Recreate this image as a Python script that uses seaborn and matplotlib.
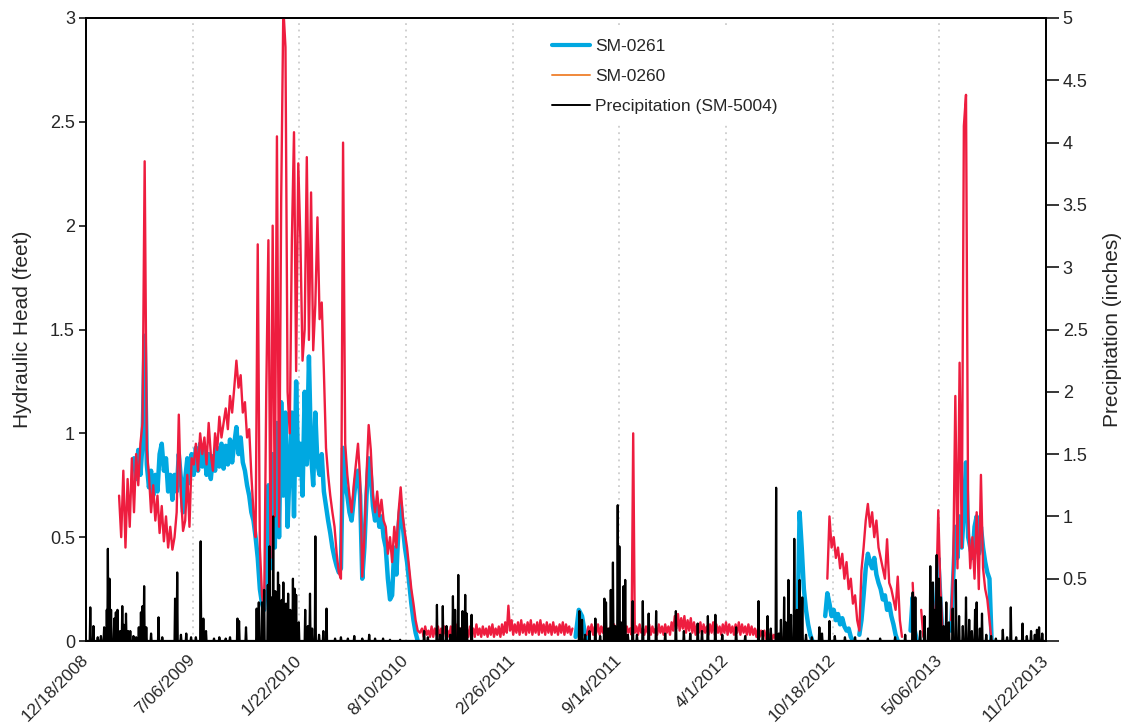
import numpy as np
import pandas as pd
import matplotlib
matplotlib.use("Agg")
import matplotlib.pyplot as plt
from matplotlib.lines import Line2D
import seaborn as sns

# ---------------------------------------------------------------------------
# Data (day offsets are counted from 12/18/2008)
# ---------------------------------------------------------------------------
START = pd.Timestamp("2008-12-18")
SPAN_DAYS = 1800

tick_labels = ["12/18/2008", "7/06/2009", "1/22/2010", "8/10/2010", "2/26/2011",
               "9/14/2011", "4/1/2012", "10/18/2012", "5/06/2013", "11/22/2013"]
head_ticks = [0, 0.5, 1, 1.5, 2, 2.5, 3]
precip_ticks = [0, 0.5, 1, 1.5, 2, 2.5, 3, 3.5, 4, 4.5, 5]

nan = np.nan

# Hydraulic head, feet -- period 1 (first day 62, every 4 days)
sm0260_p1 = [
    0.70, 0.50, 0.82, 0.45, 0.78, 0.55, 0.88, 0.62, 0.90, 0.75,
    0.95, 1.05, 2.31, 0.92, 0.80, 0.62, 0.75, 0.58, 0.70, 0.52,
    0.65, 0.48, 0.60, 0.45, 0.55, 0.44, 0.50, 0.62, 1.09, 0.70,
    0.53, 0.58, 0.80, 0.55, 0.88, 0.85, 0.95, 0.82, 1.00, 0.90,
    0.98, 0.85, 1.05, 0.90, 0.82, 1.00, 0.92, 1.08, 0.98, 1.05,
    1.12, 1.02, 1.18, 1.10, 1.22, 1.35, 1.22, 1.28, 1.10, 1.15,
    0.98, 1.02, 0.80, 0.62, 0.50, 1.91, 0.45, 0.22, 0.15, 1.20,
    1.93, 0.40, 2.00, 0.60, 2.43, 0.55, 2.13, 3.05, 2.86, 1.20,
    1.00, 1.93, 2.45, 1.30, 2.30, 1.93, 1.35, 1.50, 2.33, 1.45,
    2.16, 1.40, 1.62, 2.04, 1.55, 1.63, 1.30, 0.93, 0.80, 0.70,
    0.62, 0.55, 0.42, 0.33, 0.30, 2.40, 0.95, 0.80, 0.70, 0.62,
    0.75, 0.85, 0.95, 0.78, 0.31, 0.50, 0.80, 1.04, 0.92, 0.70,
    0.62, 0.72, 0.60, 0.68, 0.58, 0.55, 0.42, 0.50, 0.38, 0.55,
    0.45, 0.62, 0.74, 0.60, 0.52, 0.45, 0.35, 0.25, 0.18, 0.10,
    0.05, 0.04,
]
sm0261_p1 = [
    nan, nan, nan, nan, nan, nan, nan, 0.88, 0.78, 0.92,
    0.80, 0.95, 1.47, 0.85, 0.74, 0.82, 0.70, 0.80, 0.72, 0.90,
    0.95, 0.82, 0.88, 0.72, 0.80, 0.68, 0.80, 0.72, 0.90, 0.78,
    0.62, 0.78, 0.88, 0.76, 0.90, 0.80, 0.93, 0.82, 0.95, 0.84,
    0.92, 0.80, 0.90, 0.78, 0.89, 0.82, 0.93, 0.84, 0.95, 0.83,
    0.94, 0.85, 0.97, 0.86, 0.95, 1.03, 0.90, 0.98, 0.86, 0.82,
    0.75, 0.70, 0.62, 0.58, 0.50, 0.40, 0.25, 0.18, 0.15, 0.30,
    0.75, 0.35, 0.90, 0.45, 1.05, 0.50, 1.15, 0.70, 1.10, 0.55,
    0.85, 1.10, 0.60, 1.25, 0.80, 0.95, 0.70, 1.20, 0.85, 1.37,
    0.90, 0.75, 1.10, 0.85, 0.80, 0.90, 0.72, 0.65, 0.58, 0.52,
    0.45, 0.40, 0.36, 0.33, 0.35, 0.93, 0.75, 0.70, 0.62, 0.58,
    0.68, 0.78, 0.82, 0.70, 0.30, 0.45, 0.70, 0.88, 0.80, 0.65,
    0.58, 0.65, 0.55, 0.60, 0.50, 0.45, 0.30, 0.20, 0.22, 0.45,
    0.32, 0.55, 0.66, 0.55, 0.45, 0.38, 0.28, 0.18, 0.10, 0.04,
    0.00, nan,
]

# Period 2 (first day 630, every 3 days)
sm0260_p2 = [
    0.06, 0.02, 0.07, 0.03, 0.05, 0.02, 0.07, 0.02, 0.06, 0.03,
    0.07, 0.02, 0.06, 0.03, 0.07, 0.02, 0.05, 0.02, 0.07, 0.03,
    0.06, 0.02, 0.08, 0.03, 0.06, 0.02, 0.07, 0.03, 0.06, 0.02,
    0.07, 0.03, 0.06, 0.02, 0.08, 0.03, 0.06, 0.02, 0.07, 0.03,
    0.06, 0.02, 0.07, 0.03, 0.08, 0.02, 0.06, 0.03, 0.07, 0.02,
    0.08, 0.03, 0.09, 0.04, 0.17, 0.05, 0.10, 0.03, 0.08, 0.04,
    0.09, 0.03, 0.10, 0.04, 0.08, 0.03, 0.09, 0.04, 0.10, 0.03,
    0.08, 0.04, 0.09, 0.03, 0.10, 0.04, 0.08, 0.03, 0.09, 0.04,
    0.08, 0.03, 0.09, 0.04, 0.07, 0.03, 0.08, 0.04, 0.09, 0.03,
    0.08, 0.04, 0.07, 0.03, 0.06, nan, nan, nan, nan, nan,
    nan, nan, nan, 0.03, 0.07, 0.04, 0.08, 0.03, 0.07, 0.04,
    0.08, 0.03, 0.07, 0.04, 0.08, 0.03, 0.06, 0.04, 0.07, 0.03,
    0.08, 0.04, 0.07, 0.03, 0.08, 0.04, 0.06, 0.03, 0.07, 0.04,
    0.06, 0.03, 1.00, 0.04, 0.07, 0.03, 0.08, 0.04, 0.06, 0.03,
    0.07, 0.04, 0.08, 0.03, 0.07, 0.04, 0.06, 0.03, 0.08, 0.04,
    0.07, 0.03, 0.08, 0.04, 0.07, 0.03, 0.09, 0.05, 0.12, 0.06,
    0.13, 0.05, 0.11, 0.06, 0.12, 0.04, 0.10, 0.05, 0.11, 0.04,
    0.09, 0.03, 0.08, 0.04, 0.09, 0.03, 0.08, 0.04, 0.07, 0.03,
    0.08, 0.04, 0.09, 0.03, 0.08, 0.04, 0.07, 0.03, 0.08, 0.04,
    0.09, 0.03, 0.08, 0.04, 0.07, 0.03, 0.08, 0.04, 0.09, 0.03,
    0.08, 0.04, 0.07, 0.03, 0.08, 0.03, 0.07, 0.03, 0.06, 0.02,
    0.06, 0.02, 0.05, 0.02, 0.05, 0.01, 0.04, 0.01, 0.04, 0.01,
    0.03, 0.01, 0.03, 0.01, 0.02, 0.01, 0.02, 0.00, 0.02, 0.00,
    0.00,
]
# short SM-0261 rise in summer 2011 (first day 918, every 6 days)
sm0261_p2 = [0.02, 0.15, 0.12, 0.03, 0.00]

# Period 3 (first day 1330, every 4 days)
sm0260_p3 = [
    nan, nan, nan, nan, nan, nan, nan, nan, nan, nan,
    nan, nan, nan, nan, nan, 0.30, 0.60, 0.45, 0.50, 0.40,
    0.45, 0.35, 0.42, 0.30, 0.38, 0.25, 0.30, 0.18, 0.22, 0.10,
    0.05, 0.34, 0.45, 0.58, 0.66, 0.55, 0.62, 0.50, 0.58, 0.45,
    0.40, 0.35, 0.30, 0.49, 0.28, 0.25, 0.20, 0.15, 0.31, 0.10,
    0.02, nan, nan, nan, nan, 0.28, 0.05, nan, nan, 0.15,
    0.02, nan, nan, nan, nan, 0.05, 0.20, 0.63, 0.25, 0.05,
    0.00, nan, nan, 0.10, 0.35, 1.18, 0.35, 1.34, 0.45, 2.48,
    2.63, 0.60, 0.35, 0.50, 0.30, 0.62, 0.25, 0.80, 0.35, 0.25,
    0.20, 0.10, 0.00, nan, nan,
]
sm0261_p3 = [
    nan, 0.05, 0.62, 0.45, 0.25, 0.15, 0.08, 0.03, 0.00, nan,
    nan, nan, nan, nan, 0.12, 0.23, 0.18, 0.12, 0.15, 0.10,
    0.13, 0.08, 0.11, 0.07, 0.05, 0.06, 0.02, 0.00, nan, nan,
    0.03, 0.10, 0.22, 0.35, 0.42, 0.38, 0.35, 0.40, 0.32, 0.28,
    0.25, 0.20, 0.22, 0.15, 0.18, 0.12, 0.08, 0.03, 0.00, nan,
    nan, nan, nan, nan, 0.05, 0.21, 0.05, 0.00, nan, nan,
    nan, nan, nan, nan, nan, 0.05, 0.18, 0.40, 0.20, 0.03,
    0.00, nan, nan, 0.05, 0.30, 0.55, 0.40, 0.60, 0.45, 0.62,
    0.86, 0.50, 0.45, 0.40, 0.55, 0.60, 0.42, 0.55, 0.45, 0.38,
    0.33, 0.30, 0.00, nan, nan,
]

# Daily precipitation at SM-5004, inches (days with rain only)
precip_day = [
    8, 14, 22, 28, 34, 39, 41, 44, 47, 53,
    56, 59, 64, 68, 71, 75, 79, 83, 89, 94,
    99, 103, 106, 109, 113, 122, 136, 143, 167, 171,
    178, 188, 197, 206, 215, 220, 225, 240, 250, 262,
    270, 284, 287, 300, 320, 324, 330, 334, 341, 344,
    347, 351, 355, 360, 362, 367, 370, 375, 379, 383,
    388, 391, 394, 399, 411, 416, 420, 424, 430, 437,
    445, 451, 467, 478, 491, 503, 518, 531, 542, 557,
    570, 589, 634, 641, 658, 664, 669, 676, 683, 688,
    692, 698, 702, 706, 711, 714, 723, 925, 930, 936,
    944, 955, 964, 972, 975, 980, 984, 988, 992, 997,
    1000, 1003, 1008, 1011, 1016, 1025, 1033, 1044, 1055, 1069,
    1086, 1106, 1121, 1133, 1147, 1155, 1166, 1180, 1193, 1219,
    1236, 1261, 1269, 1278, 1284, 1294, 1299, 1303, 1309, 1312,
    1317, 1322, 1328, 1333, 1338, 1343, 1350, 1361, 1375, 1380,
    1394, 1404, 1423, 1442, 1466, 1489, 1517, 1536, 1550, 1555,
    1564, 1572, 1579, 1583, 1588, 1591, 1595, 1599, 1603, 1608,
    1613, 1618, 1625, 1631, 1637, 1644, 1650, 1656, 1661, 1667,
    1670, 1676, 1680, 1688, 1697, 1706, 1719, 1727, 1734, 1744,
    1756, 1764, 1772, 1779, 1783, 1787, 1793,
]
precip_in = [
    0.27, 0.12, 0.03, 0.04, 0.11, 0.25, 0.74, 0.50, 0.25, 0.18,
    0.23, 0.25, 0.08, 0.28, 0.13, 0.22, 0.08, 0.08, 0.04, 0.03,
    0.11, 0.23, 0.28, 0.44, 0.11, 0.06, 0.19, 0.03, 0.34, 0.55,
    0.05, 0.06, 0.03, 0.03, 0.80, 0.18, 0.08, 0.02, 0.03, 0.02,
    0.03, 0.18, 0.16, 0.11, 0.26, 0.31, 0.31, 0.41, 0.45, 0.76,
    0.35, 1.00, 0.40, 0.55, 0.45, 0.33, 0.47, 0.30, 0.38, 0.25,
    0.50, 0.42, 0.37, 0.15, 0.25, 0.12, 0.38, 0.10, 0.84, 0.05,
    0.08, 0.26, 0.02, 0.03, 0.02, 0.04, 0.02, 0.05, 0.02, 0.02,
    0.01, 0.01, 0.08, 0.03, 0.29, 0.05, 0.28, 0.12, 0.05, 0.36,
    0.25, 0.53, 0.10, 0.24, 0.37, 0.22, 0.21, 0.24, 0.17, 0.05,
    0.08, 0.18, 0.04, 0.34, 0.31, 0.10, 0.41, 0.63, 0.12, 1.09,
    0.76, 0.15, 0.44, 0.49, 0.05, 0.32, 0.05, 0.32, 0.22, 0.24,
    0.06, 0.24, 0.08, 0.06, 0.14, 0.08, 0.20, 0.21, 0.05, 0.11,
    0.04, 0.32, 0.08, 0.20, 0.10, 1.23, 0.06, 0.17, 0.35, 0.15,
    0.49, 0.21, 0.82, 0.25, 0.49, 0.35, 0.05, 0.03, 0.11, 0.06,
    0.16, 0.04, 0.03, 0.03, 0.02, 0.02, 0.03, 0.05, 0.39, 0.35,
    0.08, 0.20, 0.10, 0.60, 0.47, 0.25, 0.69, 0.50, 0.35, 0.12,
    0.31, 0.15, 0.26, 0.49, 0.20, 0.12, 0.35, 0.17, 0.08, 0.25,
    0.31, 0.10, 0.22, 0.05, 0.04, 0.02, 0.09, 0.03, 0.27, 0.03,
    0.14, 0.04, 0.08, 0.05, 0.09, 0.11, 0.06,
]

# ---------------------------------------------------------------------------
# Tables for plotting
# ---------------------------------------------------------------------------
def head_table(*segments):
    """Stack (first_day, step, values) records; NaN splits the line into runs."""
    parts = []
    for first_day, step, values in segments:
        days = first_day + step * np.arange(len(values))
        parts.append(pd.DataFrame({"day": days, "value": np.asarray(values, float)}))
    df = pd.concat(parts, ignore_index=True).sort_values("day").reset_index(drop=True)
    df["run"] = df["value"].isna().cumsum()
    df = df.dropna().copy()
    df["date"] = START + pd.to_timedelta(df["day"], unit="D")
    return df

sm0261 = head_table((62, 4, sm0261_p1), (918, 6, sm0261_p2), (1330, 4, sm0261_p3))
sm0260 = head_table((62, 4, sm0260_p1), (630, 3, sm0260_p2), (1330, 4, sm0260_p3))

all_days = np.arange(SPAN_DAYS + 1)
daily_precip = pd.Series(0.0, index=all_days)
daily_precip.loc[precip_day] = precip_in
precip = pd.DataFrame({"date": START + pd.to_timedelta(all_days, unit="D"),
                       "inches": daily_precip.values})

# ---------------------------------------------------------------------------
# Figure
# ---------------------------------------------------------------------------
sns.set_style("white")
plt.rcParams["font.family"] = ["Liberation Sans", "DejaVu Sans"]

BLUE = "#00A8E1"
RED = "#EE1D3F"
ORANGE = "#F0883A"

fig = plt.figure(figsize=(11.26, 7.27), dpi=100)
ax = fig.add_axes([86 / 1126, 86 / 727, 960 / 1126, 623 / 727])
ax2 = ax.twinx()

sns.lineplot(data=sm0261, x="date", y="value", units="run", estimator=None,
             color=BLUE, linewidth=3.2, ax=ax, legend=False, zorder=2)
sns.lineplot(data=sm0260, x="date", y="value", units="run", estimator=None,
             color=RED, linewidth=1.7, ax=ax, legend=False, zorder=3)
sns.lineplot(data=precip, x="date", y="inches", estimator=None,
             color="black", linewidth=1.6, ax=ax2, legend=False)

tick_dates = pd.to_datetime(tick_labels, format="%m/%d/%Y")
ax.set_xlim(START, START + pd.Timedelta(days=SPAN_DAYS))
ax.set_xticks(tick_dates)
ax.set_xticklabels(tick_labels, rotation=45, ha="right", va="center",
                   rotation_mode="anchor")
ax.grid(axis="x", color="#c4c4c4", linestyle=(0, (1.2, 3.0)), linewidth=1.1)
ax.set_axisbelow(True)

ax.set_ylim(0, 3)
ax.set_yticks(head_ticks)
ax.set_yticklabels([f"{v:g}" for v in head_ticks])
ax2.set_ylim(0, 5)
ax2.set_yticks(precip_ticks)
ax2.set_yticklabels(["" if v == 0 else f"{v:g}" for v in precip_ticks])

ax.set_xlabel("")
ax.set_ylabel("Hydraulic Head (feet)", fontsize=15, labelpad=13)
ax2.set_ylabel("Precipitation (inches)", fontsize=15, labelpad=11)

ax.tick_params(axis="x", direction="out", length=9, width=1.3, labelsize=12.5, pad=3,
               color="#222222")
ax.tick_params(axis="y", direction="out", length=5, width=1.3, labelsize=13, pad=3)
ax2.tick_params(axis="y", direction="out", length=9, width=1.3, labelsize=13, pad=3)

for a in (ax, ax2):
    for s in a.spines.values():
        s.set_color("black")
        s.set_linewidth(1.3)

handles = [Line2D([], [], color=BLUE, lw=3.0),
           Line2D([], [], color=ORANGE, lw=1.4),
           Line2D([], [], color="black", lw=1.4)]
leg = ax2.legend(handles, ["SM-0261", "SM-0260", "Precipitation (SM-5004)"],
                 loc="upper left", bbox_to_anchor=(0.466, 0.996),
                 fontsize=12.5, frameon=True, framealpha=1, facecolor="white",
                 edgecolor="none", fancybox=False, borderpad=0.55,
                 handlelength=2.2, handletextpad=0.3, labelspacing=0.85)

fig.savefig("out.png", dpi=100)
